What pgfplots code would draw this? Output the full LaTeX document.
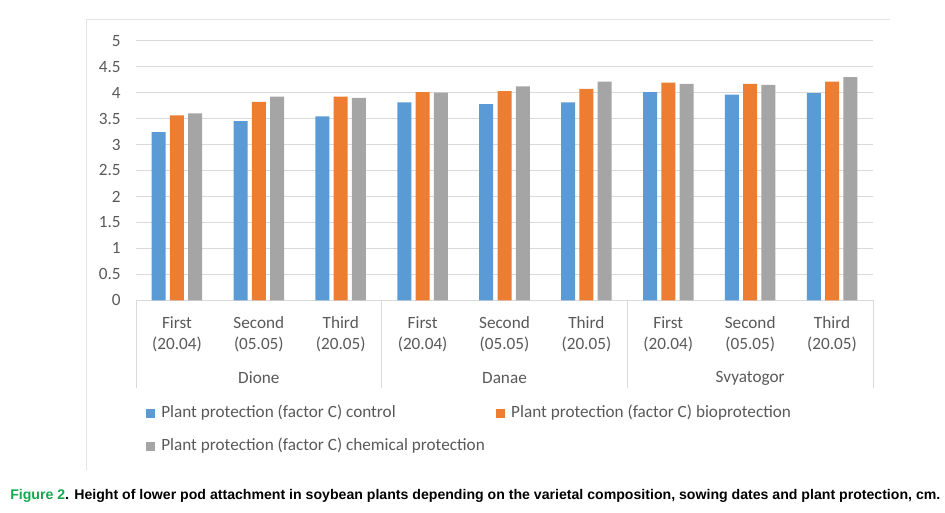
\documentclass[border=0pt]{standalone}
\usepackage{pgfplots}
\pgfplotsset{compat=1.18}
\usepackage{fontspec}
\setmainfont{Carlito}
\newfontfamily\capfont{Liberation Sans}

\definecolor{cblue}{HTML}{5B9BD5}
\definecolor{corange}{HTML}{ED7D31}
\definecolor{cgray}{HTML}{A5A5A5}
\definecolor{txtgray}{HTML}{595959}
\definecolor{gridgray}{HTML}{D9D9D9}
\definecolor{framegray}{HTML}{E3E3E3}
\definecolor{figgreen}{HTML}{12A84B}

\begin{document}
\begin{tikzpicture}
\useasboundingbox (0,0) rectangle (708.75pt,384pt);
% chart frame (left and top edges only visible)
\draw[framegray, line width=0.75pt] (64.5pt,31.5pt) -- (64.5pt,369pt) -- (667.5pt,369pt);

\begin{axis}[
    at={(102pt,158.8pt)}, anchor=south west,
    scale only axis,
    width=552.75pt, height=194.7pt,
    xmin=-0.5, xmax=8.5,
    ymin=0, ymax=5,
    ybar,
    clip=false,
    axis lines=left,
    y axis line style={draw=none},
    x axis line style={draw=gridgray, line width=0.75pt, -},
    major tick length=0pt,
    ymajorgrids,
    grid style={gridgray, line width=0.75pt},
    ytick distance=0.5,
    xtick={0,...,8},
    xticklabels={{First\\(20.04)},{Second\\(05.05)},{Third\\(20.05)},
                 {First\\(20.04)},{Second\\(05.05)},{Third\\(20.05)},
                 {First\\(20.04)},{Second\\(05.05)},{Third\\(20.05)}},
    /pgf/number format/assume math mode=true,
    ticklabel style={font=\fontsize{12.9}{15.75}\selectfont, text=txtgray},
    xticklabel style={align=center, yshift=-8.5pt},
    yticklabel style={xshift=-8pt},
    legend columns=2,
    legend cell align=left,
    legend style={
        at={(0.0136,0)}, anchor=north west, yshift=-79pt,
        draw=none, fill=none, inner sep=0pt,
        font=\fontsize{12.9}{15.75}\selectfont, text=txtgray,
        nodes={inner sep=0pt, text height=8.5pt, text depth=2.5pt},
        row sep=13.8pt,
        /tikz/every odd column/.append style={column sep=4.5pt},
        /tikz/every even column/.append style={column sep=8.5pt},
    },
    legend image code/.code={\draw[#1,draw=none] (0pt,-3.4pt) rectangle (6.75pt,3.4pt);},
]

% control
\addplot[fill=cblue, draw=none, bar width=0.171, bar shift=-0.223] coordinates {
    (0,3.24) (1,3.45) (2,3.54) (3,3.81) (4,3.78) (5,3.81) (6,4.01) (7,3.96) (8,3.99)
};
\addlegendentry{Plant protection (factor C) control}

% bioprotection
\addplot[fill=corange, draw=none, bar width=0.171, bar shift=0] coordinates {
    (0,3.56) (1,3.82) (2,3.92) (3,4.01) (4,4.03) (5,4.07) (6,4.19) (7,4.17) (8,4.21)
};
\addlegendentry{Plant protection (factor C) bioprotection}

% chemical protection
\addplot[fill=cgray, draw=none, bar width=0.171, bar shift=0.223] coordinates {
    (0,3.60) (1,3.92) (2,3.90) (3,4.00) (4,4.12) (5,4.21) (6,4.17) (7,4.15) (8,4.30)
};
\addlegendentry{Plant protection (factor C) chemical protection}

% group separators and variety names
\pgfplotsinvokeforeach{-0.5,2.5,5.5,8.5}{
    \draw[gridgray, line width=0.75pt] (axis cs:#1,0) -- ([yshift=-66pt]axis cs:#1,0);
}
\node[text=txtgray, font=\fontsize{12.9}{15.75}\selectfont] at ([yshift=-58.3pt]axis cs:1,0) {Dione};
\node[text=txtgray, font=\fontsize{12.9}{15.75}\selectfont] at ([yshift=-58.3pt]axis cs:4,0) {Danae};
\node[text=txtgray, font=\fontsize{12.9}{15.75}\selectfont] at ([yshift=-58.3pt]axis cs:7,0) {Svyatogor};
\end{axis}

\node[anchor=west, inner sep=0pt] at (7.5pt,12pt) {\resizebox{697.5pt}{\height}{\capfont\bfseries\fontsize{10.5}{12}\selectfont \textcolor{figgreen}{Figure 2}. Height of lower pod attachment in soybean plants depending on the varietal composition, sowing dates and plant protection, cm.}};
\end{tikzpicture}
\end{document}
